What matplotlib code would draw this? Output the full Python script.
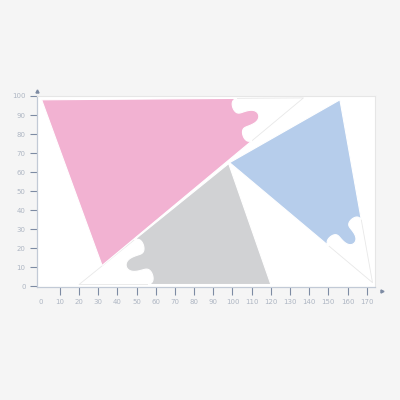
import numpy as np
import matplotlib
matplotlib.use("Agg")
import matplotlib.pyplot as plt
from matplotlib.patches import Polygon

# 三角形顶点 (数据坐标)
pink_x = [0.5, 137, 32]
pink_y = [98, 99, 11]
gray_x = [98, 120, 20]
gray_y = [64.5, 1, 1]
blue_x = [98.5, 156, 173]
blue_y = [65, 98, 2]

# 被撕掉的顶点序号, 以及撕口在两条边上的位置 (从顶点算起的比例)
pink_tip, pink_cut = 1, (0.255, 0.255)
gray_tip, gray_cut = 2, (0.36, 0.37)
blue_tip, blue_cut = 2, (0.345, 0.305)

x_ticks = list(range(0, 171, 10))
y_ticks = list(range(0, 101, 10))

bg = '#f5f5f5'
tick_col = '#7d8ba3'
label_col = '#aeb6c3'
axis_col = '#c2cad6'
faint_col = '#e8e8e8'


def torn_triangle(ax, xs, ys, tip, cut, color):
    pts = np.column_stack([xs, ys]).astype(float)
    T = pts[tip]
    A = pts[(tip - 1) % 3]
    B = pts[(tip + 1) % 3]
    P1 = T + (A - T) * cut[0]
    P2 = T + (B - T) * cut[1]
    d = P2 - P1
    chord = np.hypot(*d)
    n = np.array([-d[1], d[0]]) / chord
    if np.dot(T - (P1 + P2) / 2, n) < 0:
        n = -n
    s = np.linspace(0, 1, 160)
    w = -np.sin(3 * np.pi * s)
    w = np.where(w > 0, 0.33 * w, 0.15 * w) * chord
    # 让波峰鼓起来一点
    along = s + 0.05 * np.sin(6 * np.pi * (s - 0.5))
    wave = P1[None, :] + along[:, None] * d[None, :] + w[:, None] * n[None, :]
    poly = np.vstack([A, wave, B])
    ax.add_patch(Polygon(poly, closed=True, facecolor=color, edgecolor='white',
                         lw=0.8, zorder=2))
    # 撕掉部分的淡色轮廓
    ax.plot([P1[0], T[0], P2[0]], [P1[1], T[1], P2[1]], color=faint_col,
            lw=0.6, zorder=1)


fig = plt.figure(figsize=(4, 4), dpi=100)
fig.patch.set_facecolor(bg)
ax = fig.add_axes([36.7 / 400, 113 / 400, (375 - 36.7) / 400, (287 - 96) / 400])
ax.set_facecolor('white')
ax.set_xlim(-2.08, 174.3)
ax.set_ylim(-0.3, 99.5)

torn_triangle(ax, pink_x, pink_y, pink_tip, pink_cut, '#f2b2d2')
torn_triangle(ax, gray_x, gray_y, gray_tip, gray_cut, '#d1d2d4')
torn_triangle(ax, blue_x, blue_y, blue_tip, blue_cut, '#b6cdeb')

for side in ['top', 'right']:
    ax.spines[side].set_color('#e6e6e6')
    ax.spines[side].set_linewidth(0.8)
for side in ['left', 'bottom']:
    ax.spines[side].set_color(axis_col)
    ax.spines[side].set_linewidth(0.9)

ax.set_xticks(x_ticks)
ax.set_yticks(y_ticks)
ax.set_xticklabels([str(v) for v in x_ticks])
ax.set_yticklabels([str(v) for v in y_ticks])
ax.tick_params(axis='x', length=6, width=0.8, color=tick_col, pad=3,
               labelsize=5, labelcolor=label_col)
ax.tick_params(axis='y', length=5, width=0.8, color=tick_col, pad=3,
               labelsize=5, labelcolor=label_col)
ax.xaxis.get_major_ticks()[0].tick1line.set_visible(False)

# 坐标轴末端的小箭头
ax.plot([-2.08], [102.5], marker='^', ms=2.2, color=tick_col, clip_on=False)
ax.plot([177.8], [-2.2], marker='>', ms=2.2, color=tick_col, clip_on=False)

plt.savefig('out.png', dpi=100, facecolor=bg)
